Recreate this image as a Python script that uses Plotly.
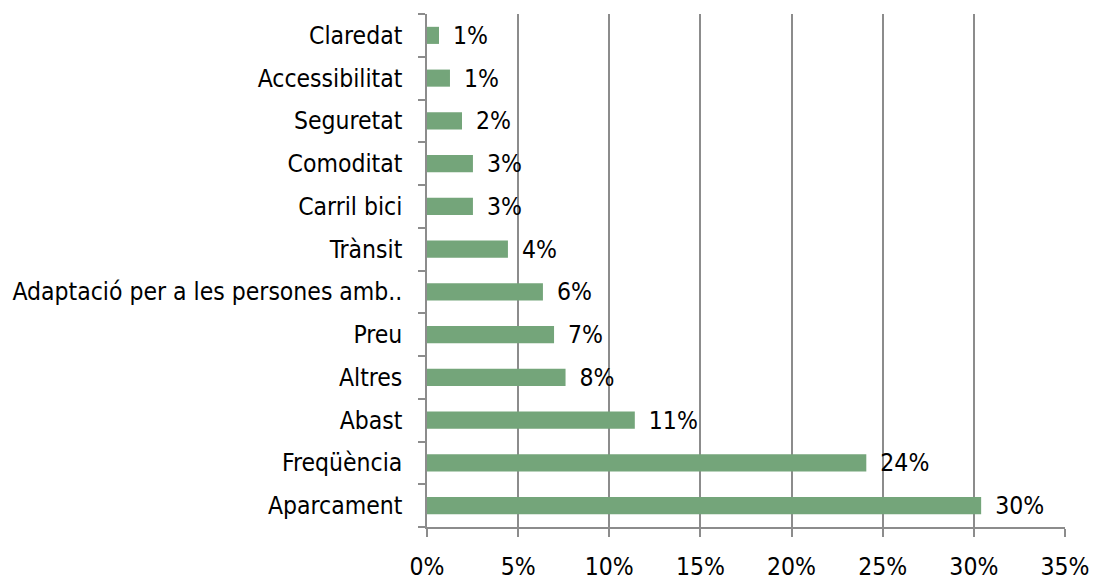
import plotly.graph_objects as go

categories = ["Aparcament", "Freqüència", "Abast", "Altres", "Preu",
              "Adaptació per a les persones amb..", "Trànsit", "Carril bici",
              "Comoditat", "Seguretat", "Accessibilitat", "Claredat"]
values = [0.304, 0.241, 0.114, 0.076, 0.0697, 0.0636, 0.0444, 0.0252,
          0.0252, 0.0192, 0.0126, 0.0066]
x_ticks = [0, 0.05, 0.10, 0.15, 0.20, 0.25, 0.30, 0.35]
x_tick_labels = ["0%", "5%", "10%", "15%", "20%", "25%", "30%", "35%"]

FONT = "DejaVu Sans Condensed, sans-serif"
FS = 24.5

fig = go.Figure(go.Bar(
    x=values, y=categories, orientation="h",
    marker=dict(color="#74A57A", line=dict(width=0)),
    width=0.4,
    text=values,
    texttemplate="\u2002%{x:.0%}",
    textposition="outside",
    constraintext="none",
    cliponaxis=False,
    textfont=dict(family=FONT, size=FS, color="#000000"),
))

fig.update_layout(
    width=1091, height=573,
    margin=dict(l=419, r=34, t=6, b=54),
    paper_bgcolor="white", plot_bgcolor="white",
    showlegend=False,
    font=dict(family=FONT, size=FS, color="#000000"),
    bargap=0.6,
)
fig.update_xaxes(
    range=[0, 0.35], tickvals=x_ticks, ticktext=x_tick_labels,
    showgrid=True, gridcolor="#8c8c8c", gridwidth=1.5,
    showline=True, linecolor="#8c8c8c", linewidth=1.5,
    ticks="outside", ticklen=8, tickcolor="#8c8c8c", tickwidth=1.5,
    ticklabelstandoff=9, zeroline=False, automargin=False,
    tickfont=dict(family=FONT, size=FS),
)
fig.update_yaxes(
    categoryorder="array", categoryarray=categories,
    showline=True, linecolor="#8c8c8c", linewidth=1.5,
    ticks="outside", ticklen=7, tickcolor="#8c8c8c", tickwidth=1.5,
    tickson="boundaries", showgrid=False, automargin=False,
    ticklabelstandoff=18,
    tickfont=dict(family=FONT, size=FS),
)

fig.write_html("out.html")
